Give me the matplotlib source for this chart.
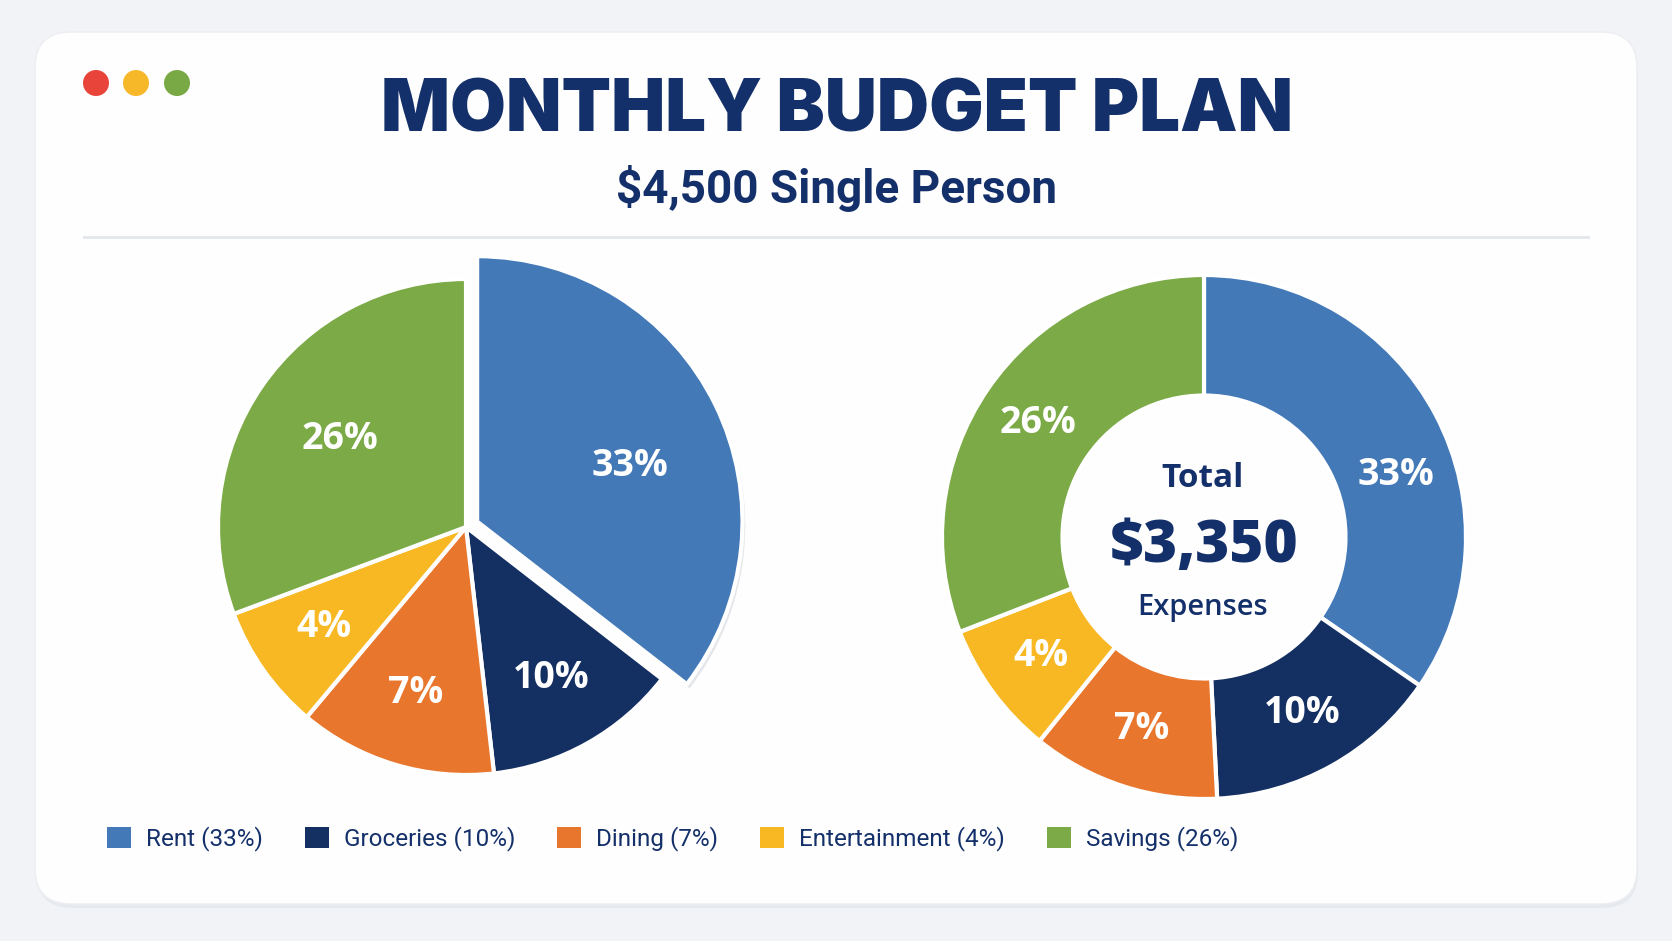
import matplotlib
matplotlib.use("Agg")
import numpy as np
import matplotlib.pyplot as plt
from matplotlib.patches import FancyBboxPatch, Circle
import matplotlib.patheffects as pe

# ---- data ----
categories = ["Rent", "Groceries", "Dining", "Entertainment", "Savings"]
percents = [33, 10, 7, 4, 26]                       # printed labels
# slice sizes as drawn in the picture
pie_shares = [35.5, 12.7, 12.9, 8.2, 30.7]
donut_shares = [34.6, 14.6, 11.6, 8.3, 30.9]
colors = ["#4479B8", "#142F62", "#E9762D", "#F8B824", "#7BAA46"]
title = "MONTHLY BUDGET PLAN"
subtitle = "$4,500 Single Person"
center_lines = ["Total", "$3,350", "Expenses"]
legend_labels = [f"{c} ({p}%)" for c, p in zip(categories, percents)]
pct_labels = [f"{p}%" for p in percents]

W, H = 1672, 941
NAVY = "#14306A"
fig = plt.figure(figsize=(W / 100, H / 100), dpi=100)
fig.patch.set_facecolor("#F1F3F6")

bg = fig.add_axes([0, 0, 1, 1])
bg.set_xlim(0, W)
bg.set_ylim(H, 0)
bg.axis("off")

# card with shadow
shadow = FancyBboxPatch((35 + 1, 32 + 4), 1602, 872, boxstyle="round,pad=0,rounding_size=36",
                        facecolor="#DDE1E7", edgecolor="none", alpha=0.5, zorder=0)
bg.add_patch(shadow)
card = FancyBboxPatch((35, 32), 1602, 872, boxstyle="round,pad=0,rounding_size=36",
                      facecolor="#FEFEFE", edgecolor="#ECEEF2", lw=1, zorder=1)
bg.add_patch(card)

for x, c in zip([96, 136, 177], ["#E8443A", "#F6B829", "#78A944"]):
    bg.add_patch(Circle((x, 83), 13, facecolor=c, edgecolor="none", zorder=2))

bg.plot([84, 1588], [237, 237], color="#E3E6EB", lw=2, zorder=2)

bg.text(837, 112, title, ha="center", va="center", fontsize=52, color=NAVY,
        fontfamily=["Inter", "Roboto"], fontweight="black", zorder=3)
bg.text(836, 188, subtitle, ha="center", va="center", fontsize=33, color=NAVY,
        fontfamily="Roboto", fontweight="bold", zorder=3)


def pie_axes(cx, cy, r, lim):
    h = r * lim
    return fig.add_axes([(cx - h) / W, 1 - (cy + h) / H, 2 * h / W, 2 * h / H])


LIM = 1.16
TP = dict(color="white", fontsize=27, fontweight="bold", fontfamily="Open Sans",
          ha="center", va="center")

# ---- left pie ----
ax1 = pie_axes(466, 527, 248, LIM)
explode = [0.05, 0, 0, 0, 0]
w1, t1 = ax1.pie(pie_shares, colors=colors, startangle=90, counterclock=False,
                 explode=explode, labels=pct_labels, labeldistance=0.70,
                 wedgeprops=dict(edgecolor="white", linewidth=3), textprops=TP)
w1[0].set_radius(1.07)
w1[0].set_path_effects([pe.SimplePatchShadow(offset=(2, -3), shadow_rgbFace="#A8B0BC", alpha=0.3),
                        pe.Normal()])
# label placement tweaks
x, y = t1[4].get_position()
t1[4].set_position((x * 0.62 / 0.70, y * 0.62 / 0.70))
t1[0].set_position((0.66 * np.cos(np.radians(22)) + 0.05, 0.66 * np.sin(np.radians(22))))
ax1.set_xlim(-LIM, LIM)
ax1.set_ylim(-LIM, LIM)
ax1.set_aspect("equal")
ax1.axis("off")

# ---- donut ----
ax2 = pie_axes(1204, 537, 262, LIM)
w2, t2 = ax2.pie(donut_shares, colors=colors, startangle=90, counterclock=False,
                 labels=pct_labels, labeldistance=0.77,
                 wedgeprops=dict(width=0.46, edgecolor="white", linewidth=3), textprops=TP)
t2[0].set_position((0.77 * np.cos(np.radians(18)), 0.77 * np.sin(np.radians(18))))
ax2.set_xlim(-LIM, LIM)
ax2.set_ylim(-LIM, LIM)
ax2.set_aspect("equal")
ax2.axis("off")

bg.text(1203, 478, center_lines[0], ha="center", va="center", fontsize=24, color=NAVY,
        fontfamily="Open Sans", fontweight="bold", zorder=5)
bg.text(1204, 547, center_lines[1], ha="center", va="center", fontsize=42, color=NAVY,
        fontfamily="Open Sans", fontweight="heavy", zorder=5)
bg.text(1203, 608, center_lines[2], ha="center", va="center", fontsize=21, color=NAVY,
        fontfamily="Open Sans", fontweight="semibold", zorder=5)

# ---- legend ----
FS = 17.5
fpx = FS * 100 / 72
leg = fig.legend(w2, legend_labels, loc="center left",
                 bbox_to_anchor=(107 / W, 1 - 839 / H), ncol=5, frameon=False,
                 prop=dict(family="Roboto", size=FS), labelcolor=NAVY,
                 handlelength=24 / fpx, handleheight=24 / fpx, handletextpad=15 / fpx,
                 columnspacing=42 / fpx, borderpad=0, borderaxespad=0)
for hnd in leg.legend_handles:
    hnd.set_edgecolor("none")

fig.savefig("out.png", dpi=100, facecolor=fig.get_facecolor())
